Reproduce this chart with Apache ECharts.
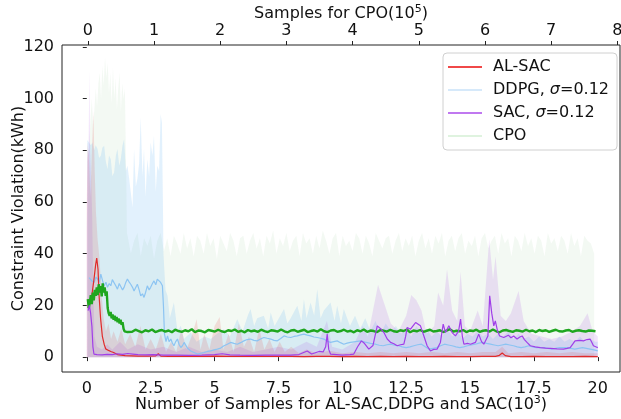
<!DOCTYPE html>
<html><head><meta charset="utf-8">
<script src="https://cdn.jsdelivr.net/npm/echarts@6/dist/echarts.min.js"></script>
<style>html,body{margin:0;padding:0;background:#fff}#c{width:621px;height:419px}</style>
</head><body><div id="c"></div>
<script>
// ---- tick labels ----
const bottomTicks = [0, 2.5, 5, 7.5, 10, 12.5, 15, 17.5, 20];
const topTicks = [0, 1, 2, 3, 4, 5, 6, 7, 8];
const yTicks = [0, 20, 40, 60, 80, 100, 120];
const legendNames = ['AL-SAC', 'DDPG, σ=0.12', 'SAC, σ=0.12', 'CPO'];

// ---- AL-SAC (x in 10^3 samples) ----
const alsacLine = [[0.05,19],[0.12,21],[0.2,24],[0.28,30],[0.35,36],[0.39,38.3],[0.44,34],[0.48,24],[0.54,15],[0.61,8],[0.68,5],[0.74,3.2],[0.85,2.6],[0.94,2.2],[1.05,1.8],[1.2,1.0],[1.35,0.8],[1.5,0.6],[1.75,0.5],[2.0,0.4],[2.4,0.4],[2.7,0.5],[2.8,1.3],[2.9,0.4],[3.2,0.3],[3.6,0.3],[4.0,0.4],[4.5,0.3],[5.0,0.4],[5.5,0.3],[6.0,0.3],[6.5,0.4],[7.0,0.3],[7.5,0.3],[8.0,0.3],[8.5,0.2],[9.0,0.3],[9.5,0.3],[10.0,0.2],[10.5,0.3],[11.0,0.2],[11.5,0.3],[12.0,0.2],[12.5,0.3],[13.0,0.2],[13.5,0.2],[14.0,0.3],[14.5,0.2],[15.0,0.2],[15.5,0.3],[16.0,0.3],[16.15,0.7],[16.26,1.6],[16.38,0.6],[16.6,0.2],[17.0,0.2],[17.5,0.3],[18.0,0.2],[18.5,0.2],[19.0,0.2],[19.5,0.3],[20.0,0.2]];
const alsacBand = [[0.0,60],[0.03,83],[0.08,78],[0.14,62],[0.2,80],[0.26,95],[0.31,72],[0.36,56],[0.42,46],[0.5,38],[0.58,24],[0.66,15],[0.75,10],[0.85,13],[0.95,7],[1.05,10],[1.2,6],[1.35,11],[1.5,5],[1.7,9],[1.9,4],[2.1,12],[2.3,3],[2.5,7],[2.7,3],[2.9,9],[3.1,2],[3.3,6],[3.5,2],[3.7,11],[3.9,3],[4.1,8],[4.3,14.7],[4.45,3],[4.6,9],[4.8,3],[5.0,12],[5.2,15.5],[5.35,3],[5.55,9],[5.75,2],[5.95,13],[6.15,4],[6.35,8],[6.55,2],[6.75,11],[6.95,3],[7.15,7],[7.35,2],[7.55,6],[7.75,2],[8.0,4],[8.3,1.5],[8.6,3],[9.0,1.5],[9.5,2.5],[10,1.5],[10.5,2],[11,1.5],[11.5,2],[12,1.5],[12.5,2],[13,1.5],[13.5,2],[14,1.5],[14.5,2],[15,1.5],[15.5,2],[16,2],[16.26,4],[16.5,1.5],[17,2],[17.5,1.5],[18,2],[18.5,1.5],[19,2],[19.5,1.5],[20,1.5]];

// ---- DDPG ----
const ddpgLine = [[0.09,30.8],[0.2,29.5],[0.29,28.9],[0.36,31],[0.42,30.2],[0.49,29],[0.55,32.1],[0.62,29.5],[0.68,27.6],[0.75,29],[0.81,27.0],[0.88,28.5],[0.94,27.6],[1.0,30],[1.07,29.5],[1.14,27.5],[1.2,26.3],[1.27,28.5],[1.33,28.2],[1.4,26],[1.46,27.0],[1.53,29],[1.59,30.2],[1.66,29],[1.72,28.2],[1.79,27],[1.85,25.6],[1.92,27],[1.98,28.2],[2.05,26],[2.11,23.7],[2.18,24.5],[2.24,23.1],[2.3,25],[2.37,27.6],[2.44,26],[2.5,27.0],[2.57,28.5],[2.63,29.5],[2.7,28],[2.76,30.2],[2.83,29.5],[2.89,28.9],[2.96,27.6],[3.0,20],[3.04,9],[3.1,6],[3.16,8.2],[3.22,6],[3.29,7.0],[3.35,5.5],[3.41,4.4],[3.48,6],[3.55,7.0],[3.61,5],[3.68,3.7],[3.75,4.5],[3.81,5.7],[3.94,3.5],[4.07,2.4],[4.2,1.8],[4.33,1.2],[4.46,1.5],[4.59,1.8],[4.72,2.2],[4.85,2.4],[4.98,2.8],[5.11,3.1],[5.24,3.5],[5.37,4.4],[5.5,5],[5.63,5.7],[5.76,5.3],[5.89,5.0],[6.02,5.6],[6.15,6.3],[6.28,6.8],[6.41,7.0],[6.54,6.5],[6.67,6.3],[6.8,7],[6.93,7.6],[7.06,7.3],[7.2,7.0],[7.33,6.5],[7.46,6.3],[7.59,7.2],[7.72,8.2],[7.85,7.8],[7.98,7.6],[8.11,8],[8.24,8.2],[8.37,8.6],[8.5,8.9],[8.63,8.5],[8.76,8.2],[8.89,7.8],[9.02,7.6],[9.15,7.3],[9.28,7.0],[9.41,6.2],[9.54,5.7],[9.67,6],[9.8,6.3],[9.93,5.6],[10.06,5.0],[10.19,5.4],[10.32,5.7],[10.52,6],[10.72,6.3],[10.9,5.8],[11.1,5.3],[11.3,5.0],[11.45,4.6],[11.6,4.4],[11.75,4.8],[11.9,5.0],[12.05,4.6],[12.2,4.4],[12.35,4.0],[12.5,3.7],[12.65,4.0],[12.8,4.4],[12.95,4.8],[13.1,5.0],[13.25,4.0],[13.4,3.1],[13.55,3.4],[13.7,3.7],[13.85,4.4],[14.0,5.0],[14.15,4.7],[14.3,4.4],[14.45,4.0],[14.6,3.7],[14.75,4.0],[14.9,4.4],[15.05,4.7],[15.2,5.0],[15.35,5.4],[15.5,5.7],[15.65,5.3],[15.8,5.0],[15.95,4.7],[16.1,4.4],[16.25,4.7],[16.4,5.0],[16.55,4.7],[16.7,4.4],[16.85,4.0],[17.0,3.7],[17.15,4.0],[17.3,4.4],[17.45,4.0],[17.6,3.7],[17.75,3.7],[17.9,3.7],[18.05,3.4],[18.2,3.1],[18.35,3.4],[18.5,3.7],[18.65,3.7],[18.8,3.7],[18.95,3.4],[19.1,3.1],[19.25,3.4],[19.4,3.7],[19.55,3.4],[19.7,3.1],[19.85,2.8],[20.0,2.4]];
const ddpgBand = [[0.02,84],[0.09,84.3],[0.16,82],[0.22,83],[0.29,80],[0.35,82],[0.42,80.5],[0.48,77],[0.55,77.9],[0.61,81],[0.68,81.8],[0.74,76],[0.81,72.7],[0.87,78],[0.94,76.6],[1.0,70],[1.07,71.4],[1.14,78],[1.2,80.5],[1.27,74],[1.33,76.6],[1.4,82],[1.46,84.3],[1.53,72],[1.59,74],[1.66,69],[1.72,68.9],[1.79,58],[1.85,80.5],[1.92,66],[1.98,68.9],[2.05,75],[2.11,92.7],[2.18,70],[2.24,80.5],[2.3,62],[2.37,76.6],[2.44,70],[2.5,83],[2.57,78],[2.63,85.6],[2.7,64],[2.76,74],[2.83,72],[2.89,94],[2.94,90.8],[2.98,60],[3.0,40],[3.03,39.8],[3.08,26],[3.16,23.7],[3.25,15],[3.41,21.1],[3.55,10],[3.68,12.1],[3.8,7],[4.07,9.5],[4.3,6],[4.6,8],[4.85,7.0],[5.1,9],[5.37,10.8],[5.6,8],[5.89,14.7],[6.1,10],[6.3,16],[6.41,18.6],[6.55,12],[6.67,15],[6.93,16.0],[7.1,11],[7.2,17.3],[7.35,12],[7.46,14],[7.72,18.6],[7.85,13],[7.98,15],[8.24,19.9],[8.4,14],[8.5,22.4],[8.6,15],[8.76,21.1],[8.9,16],[9.02,26.3],[9.15,15],[9.28,18],[9.54,21.1],[9.7,14],[9.8,19.9],[9.95,13],[10.06,18.6],[10.3,12],[10.5,16],[10.7,11],[10.9,15],[11.1,10],[11.3,14],[11.5,9],[11.7,13],[11.9,10],[12.1,12],[12.3,9],[12.5,11],[12.7,8],[12.9,12],[13.1,9],[13.3,11],[13.5,8],[13.7,10],[13.9,8],[14.1,11],[14.3,8],[14.5,10],[14.7,7],[14.9,9],[15.1,8],[15.3,10],[15.5,8],[15.7,9],[15.9,7],[16.1,9],[16.3,8],[16.5,10],[16.7,7],[16.9,9],[17.1,7],[17.3,8],[17.5,6],[17.7,8],[17.9,6],[18.1,7],[18.3,6],[18.5,8],[18.7,6],[18.9,7],[19.1,6],[19.3,8],[19.5,6],[19.7,7],[19.9,6],[20.0,6]];

// ---- SAC ----
const sacLine = [[0.05,18],[0.1,20],[0.15,17],[0.2,12],[0.24,4],[0.28,1.2],[0.4,1.0],[0.6,0.9],[0.8,1.1],[1.0,1.0],[1.2,1.3],[1.4,1.1],[1.6,1.4],[1.8,1.2],[2.0,1.0],[2.3,0.9],[2.6,1.0],[3.0,0.8],[3.5,0.8],[4.0,0.7],[4.5,0.8],[5.0,1.0],[5.3,1.3],[5.6,0.9],[6.0,0.8],[6.5,0.7],[7.0,0.8],[7.5,0.8],[7.98,0.8],[8.3,1.0],[8.63,2.4],[8.8,1.2],[9.09,2.2],[9.25,2.0],[9.35,4],[9.41,8.9],[9.47,3],[9.54,1.2],[10.0,0.8],[10.3,1.0],[10.45,1.2],[10.6,4.0],[10.75,6.3],[10.85,5.5],[11.04,3.1],[11.2,4.5],[11.3,9],[11.37,12.1],[11.5,11],[11.63,9.5],[11.76,7],[11.89,5.7],[12.02,5.2],[12.15,4.4],[12.28,4.8],[12.41,5.0],[12.48,8],[12.54,11.5],[12.67,10.8],[12.8,12.5],[12.87,13.4],[12.93,14.0],[13.06,12.1],[13.2,8],[13.32,4.4],[13.45,2.4],[13.58,3.0],[13.71,3.1],[13.84,5.7],[13.95,12.8],[14.04,9.5],[14.17,12.1],[14.3,9.5],[14.43,8.2],[14.55,10],[14.63,14.7],[14.7,8],[14.76,5.0],[14.9,5.3],[15.02,5.0],[15.21,5.7],[15.34,8.9],[15.45,6],[15.54,5.0],[15.7,8.2],[15.77,23.7],[15.85,17],[15.93,12.1],[15.99,14.0],[16.08,10],[16.16,8.2],[16.32,7.6],[16.5,8.5],[16.6,7.5],[16.71,8.2],[16.84,7.0],[16.95,7.8],[17.04,8.2],[17.13,6.8],[17.23,5.7],[17.36,4.4],[17.55,4.0],[17.75,3.7],[17.95,3.5],[18.14,3.4],[18.4,3.2],[18.66,3.1],[18.8,3.4],[18.92,3.7],[19.02,5],[19.11,6.3],[19.3,6.5],[19.44,6.3],[19.58,6.8],[19.7,7.0],[19.78,5.5],[19.83,4.4],[19.92,4.0],[20.0,3.7]];
const sacBand = [[0.0,50],[0.03,77],[0.07,80],[0.1,111],[0.13,80],[0.17,70],[0.21,55],[0.25,30],[0.3,8],[0.4,4],[0.6,3],[0.8,5],[1.0,3],[1.3,6],[1.6,3],[2.0,5],[2.5,3],[3,4],[3.5,2],[4,4],[4.5,2],[5,3],[5.5,2],[6,4],[6.5,2],[7,3],[7.5,4],[8,3],[8.6,6],[9.0,4],[9.4,14],[9.6,4],[10,3],[10.5,6],[10.8,12],[11.0,8],[11.4,28],[11.6,22],[11.9,13],[12.2,10],[12.5,16],[12.7,24],[12.9,22],[13.1,18],[13.3,9],[13.6,12],[13.75,25],[13.95,20],[14.1,34],[14.3,18],[14.5,14],[14.63,33],[14.8,12],[15.0,10],[15.3,18],[15.5,12],[15.75,45.6],[15.9,30],[16.0,39],[16.2,16],[16.4,14],[16.6,17],[16.9,25.6],[17.1,14],[17.4,9],[17.8,8],[18.2,7],[18.6,8],[19.0,10],[19.3,12],[19.6,17],[19.8,10],[20,8]];

// ---- CPO (x in 10^5 samples, top axis) ----
const cpoLineStart = [[0,22.4],[0.015,19],[0.03,21.2],[0.045,24],[0.06,20.5],[0.075,25],[0.09,22],[0.105,26],[0.12,23.7],[0.135,27],[0.15,24],[0.165,28.2],[0.18,25],[0.195,27.5],[0.21,23.5],[0.225,28.5],[0.24,25],[0.255,27],[0.27,23.7],[0.285,25.5],[0.3,19],[0.315,17],[0.33,16],[0.345,17.5],[0.36,15],[0.375,16.5],[0.39,14.5],[0.405,16],[0.42,14],[0.435,15.5],[0.45,13.5],[0.465,15],[0.48,13],[0.495,14.5],[0.51,12.5],[0.525,13.5],[0.54,11],[0.555,10],[0.57,9.4],[0.585,10.2],[0.6,9.7]];
const cpoLineStep = 0.05, cpoLineFrom = 0.62;
const cpoLineRest = [10.3,9.8,10.6,10.1,9.6,10.4,10.0,10.7,9.7,10.2,10.5,9.9,10.3,9.6,10.6,10.1,9.8,10.4,10.0,10.8,9.7,10.3,10.1,9.6,10.5,10.2,9.9,10.6,10.0,9.7,10.4,10.1,10.7,9.8,10.2,9.6,10.5,10.0,10.3,9.8,10.6,10.1,9.7,10.4,10.2,9.9,10.7,10.0,9.6,10.3,10.5,9.8,10.2,10.6,9.7,10.1,10.4,9.9,10.8,10.0,9.7,10.3,10.5,9.8,10.1,10.6,9.9,10.2,9.6,10.4,10.0,10.7,9.8,10.3,10.1,9.7,10.5,10.2,9.9,10.6,10.0,9.8,10.4,10.1,10.7,9.6,10.3,10.0,10.5,9.8,10.2,10.6,9.9,10.1,10.4,9.7,10.3,10.8,9.9,10.2,10.0,10.5,9.7,10.3,10.1,10.6,9.8,10.2,10.4,9.9,10.7,10.0,9.6,10.3,10.5,10.1,9.8,10.4,10.2,9.9,10.6,10.0,10.3,9.7,10.5,10.1,10.4,9.8,10.2,10.6,10.0,9.9,10.3,10.5,9.8,10.2,10.4,10.1,9.9,10.3,10.2,10.0];
const cpoBandStart = [[0,55],[0.02,80],[0.04,92],[0.06,100],[0.08,90],[0.1,96],[0.12,104],[0.14,97],[0.16,106],[0.18,110],[0.2,100],[0.22,112.7],[0.24,105],[0.26,116],[0.28,108],[0.3,114],[0.32,102],[0.34,110],[0.36,98],[0.38,112],[0.4,100],[0.42,108],[0.44,96],[0.46,104],[0.48,110],[0.5,95],[0.52,106],[0.54,100],[0.56,104],[0.58,70],[0.59,48]];
const cpoBandStep = 0.05, cpoBandFrom = 0.6;
const cpoBandRest = [47,40,45,48,39,46,43,47,38,45,48,41,46,39,47,44,40,48,42,46,39,47,45,40,48,43,46,38,47,44,41,48,45,39,46,47,40,45,48,42,46,39,47,44,49,40,46,43,48,41,45,47,39,48,44,46,40,47,42,49,45,40,46,48,39,47,43,45,41,48,46,40,47,44,39,48,45,42,46,47,40,45,48,41,46,43,47,39,45,48,42,46,40,47,44,48,39,45,47,41,46,48,40,45,43,47,39,46,48,42,45,47,40,48,44,46,39,47,45,41,48,43,46,40,47,45,39,48,44,46,41,47,45,40,48,43,46,39,47,45,44,40];

function seq(from, step, ys) { return ys.map((y, i) => [+(from + i * step).toFixed(4), y]); }
const cpoLine = cpoLineStart.concat(seq(cpoLineFrom, cpoLineStep, cpoLineRest));
const cpoBand = cpoBandStart.concat(seq(cpoBandFrom, cpoBandStep, cpoBandRest));

const FONT = 'DejaVu Sans';
const TXT = '#111';
const FS = 16;
const legendColors = ['#f04848', '#d6e9fa', '#c078f0', '#dff3df'];

function band(name, data, color, opacity, xi) {
  return { name, type: 'line', xAxisIndex: xi, data, symbol: 'none', silent: true, z: 1,
    lineStyle: { width: 0, opacity: 0 }, areaStyle: { color, opacity }, animation: false };
}
function line(name, data, color, width, xi, z) {
  return { name, type: 'line', xAxisIndex: xi, data, symbol: 'none', showSymbol: false, z,
    lineStyle: { color, width }, itemStyle: { color }, animation: false };
}

const richName = {
  a: { fontFamily: FONT, fontSize: FS, color: TXT, lineHeight: 19 },
  s: { fontFamily: FONT, fontSize: 11, color: TXT, lineHeight: 19, verticalAlign: 'top' }
};

const option = {
  animation: false,
  backgroundColor: '#fff',
  grid: { left: 62, right: 1, top: 45, bottom: 47, show: true, borderColor: '#222', borderWidth: 1,
    backgroundColor: 'transparent', outerBoundsMode: 'none', containLabel: false },
  xAxis: [
    { type: 'value', position: 'bottom', min: -0.97, max: 20.87,
      axisLine: { show: false }, splitLine: { show: false },
      axisTick: { show: true, length: 4, customValues: bottomTicks, lineStyle: { color: '#222' } },
      axisLabel: { customValues: bottomTicks, margin: 9, fontSize: FS, fontFamily: FONT, color: TXT, formatter: v => String(v) },
      name: '{a|Number of Samples for AL-SAC,DDPG and SAC(10}{s|3}{a|)}', nameLocation: 'middle', nameGap: 23,
      nameMoveOverlap: false, nameTextStyle: { rich: richName } },
    { type: 'value', position: 'top', min: -0.39, max: 8.04,
      axisLine: { show: false }, splitLine: { show: false },
      axisTick: { show: true, length: 4, customValues: topTicks, lineStyle: { color: '#222' } },
      axisLabel: { customValues: topTicks, margin: 6, fontSize: FS, fontFamily: FONT, color: TXT, formatter: v => String(v) },
      name: '{a|Samples for CPO(10}{s|5}{a|)}', nameLocation: 'middle', nameGap: 22,
      nameMoveOverlap: false, nameTextStyle: { rich: richName } }
  ],
  yAxis: [
    { type: 'value', min: -5.75, max: 120.75,
      axisLine: { show: false }, splitLine: { show: false },
      axisTick: { show: true, length: 4, customValues: yTicks, lineStyle: { color: '#222' } },
      axisLabel: { customValues: yTicks, margin: 8, fontSize: FS, fontFamily: FONT, color: TXT },
      name: 'Constraint Violation(kWh)', nameLocation: 'middle', nameGap: 35, nameRotate: 90,
      nameMoveOverlap: false, nameTextStyle: { fontFamily: FONT, fontSize: FS, color: TXT } }
  ],
  legend: {
    data: legendNames.map((n, i) => ({ name: n, itemStyle: { color: legendColors[i] } })),
    orient: 'vertical', left: 443, top: 53, itemWidth: 34, itemHeight: 2, itemGap: 7,
    icon: 'rect', padding: [6, 8, 6, 5],
    backgroundColor: 'rgba(255,255,255,0.85)', borderColor: '#d0d0d0', borderWidth: 1, borderRadius: 4,
    formatter: n => {
      if (n.indexOf('σ') >= 0) { const p = n.split('σ'); return '{t|' + p[0] + '}{i|σ}{t|' + p[1] + '}'; }
      return '{t|' + n + '}';
    },
    textStyle: { fontFamily: FONT, fontSize: FS, color: TXT, padding: [0, 0, 0, 6],
      rich: { t: { fontFamily: FONT, fontSize: FS, color: TXT, lineHeight: 18 },
              i: { fontFamily: FONT, fontSize: FS, color: TXT, fontStyle: 'italic', lineHeight: 18 } } }
  },
  series: [
    band('CPO band', cpoBand, '#2ca02c', 0.06, 1),
    band('DDPG band', ddpgBand, '#4da6f0', 0.16, 0),
    band('SAC band', sacBand, '#a040e0', 0.14, 0),
    band('AL-SAC band', alsacBand, '#e03030', 0.14, 0),
    line('DDPG, σ=0.12', ddpgLine, '#8cc4f2', 1.2, 0, 3),
    line('AL-SAC', alsacLine, '#e02a2a', 1.2, 0, 3),
    line('CPO', cpoLine, '#1fa61f', 2.4, 1, 4),
    line('SAC, σ=0.12', sacLine, '#a03ee8', 1.2, 0, 5)
  ]
};
const chart = echarts.init(document.getElementById('c'));
chart.setOption(option);
</script></body></html>
